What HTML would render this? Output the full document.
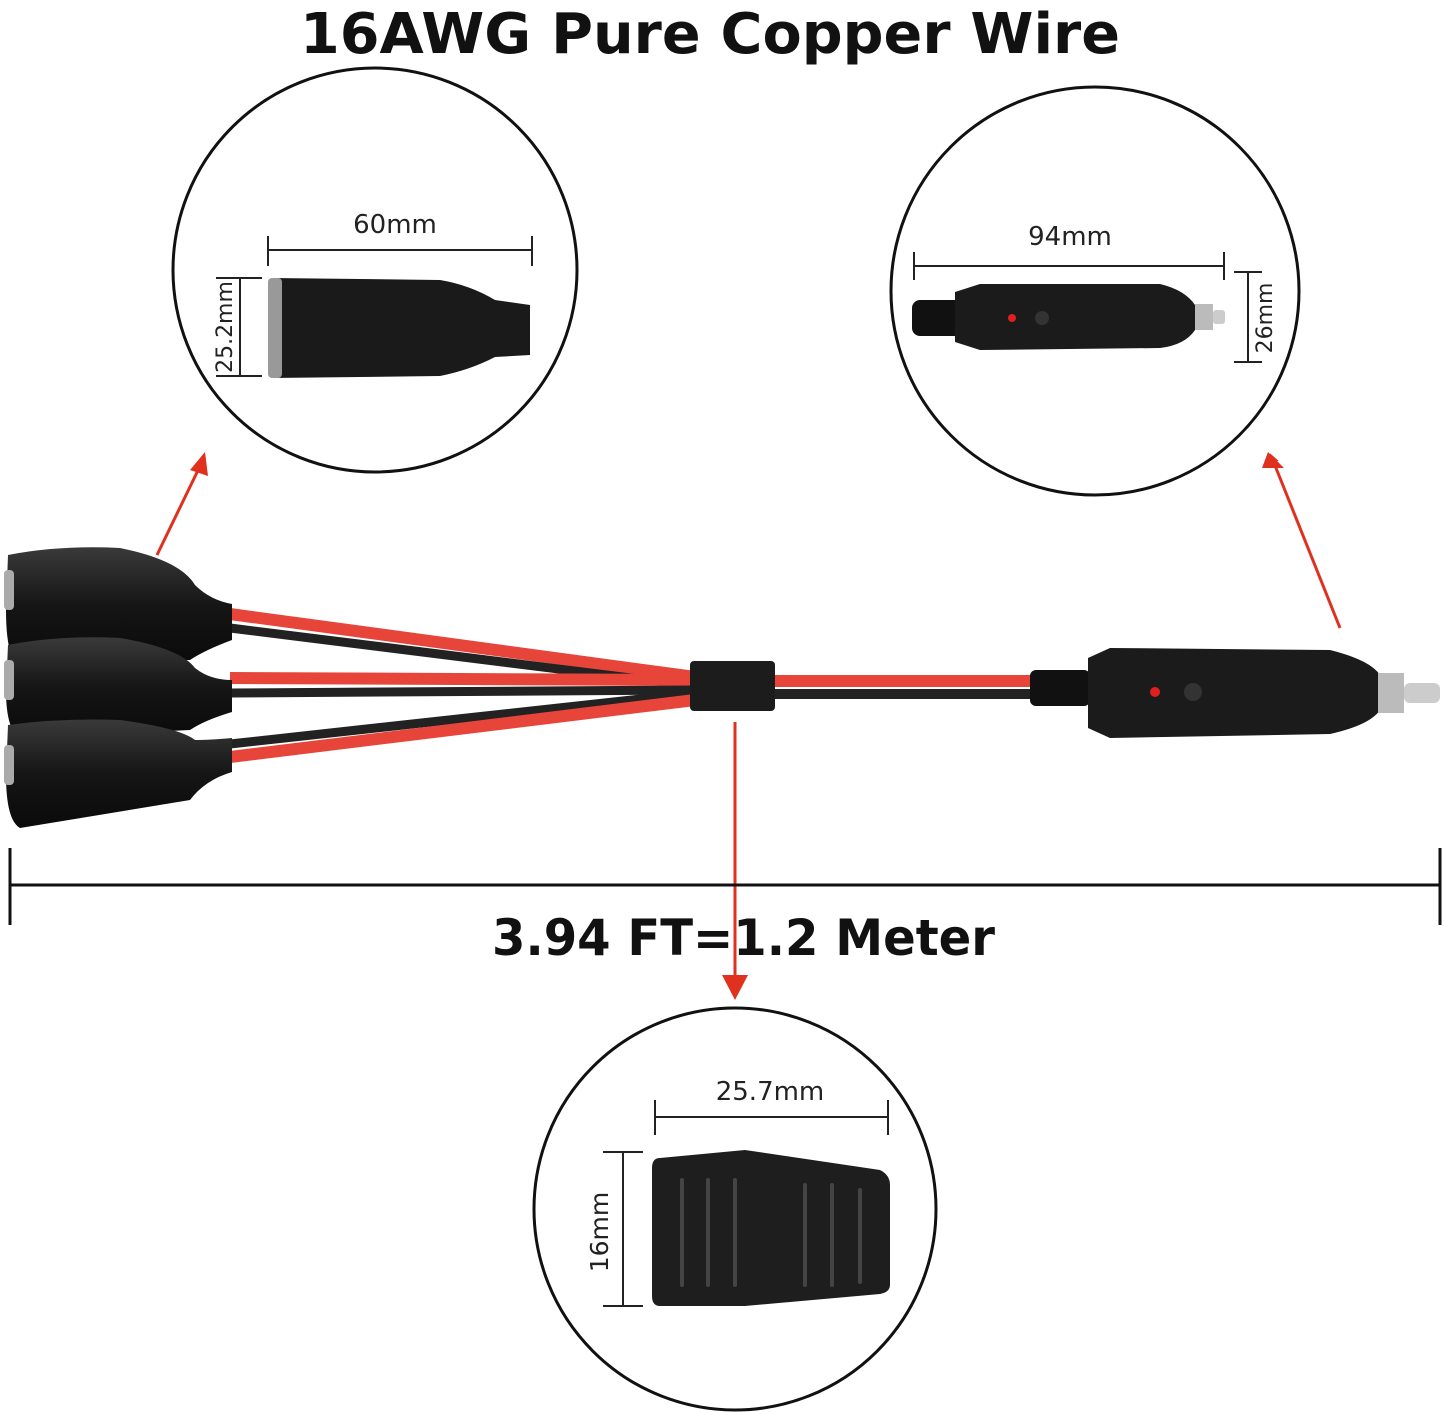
<!DOCTYPE html>
<html><head><meta charset="utf-8"><style>
html,body{margin:0;padding:0;background:#fff;width:1445px;height:1415px;overflow:hidden}
svg{display:block}
text{font-family:"DejaVu Sans","Liberation Sans",sans-serif}
</style></head><body>
<svg width="1445" height="1415" viewBox="0 0 1445 1415" xmlns="http://www.w3.org/2000/svg">
<defs>
<marker id="ah" markerWidth="10" markerHeight="10" refX="5" refY="5" orient="auto" markerUnits="userSpaceOnUse" viewBox="0 0 10 10"><path d="M0,0 L10,5 L0,10 z" fill="#e0301e"/></marker>
<linearGradient id="sock" x1="0" y1="0" x2="0" y2="1"><stop offset="0" stop-color="#3a3a3a"/><stop offset="0.5" stop-color="#151515"/><stop offset="1" stop-color="#0a0a0a"/></linearGradient>
</defs>
<text x="300" y="53" font-size="56" font-weight="bold" textLength="820" lengthAdjust="spacingAndGlyphs" fill="#111">16AWG Pure Copper Wire</text>

<circle cx="375" cy="270" r="202" fill="none" stroke="#111" stroke-width="3"/>
<circle cx="1095" cy="291" r="204" fill="none" stroke="#111" stroke-width="3"/>
<circle cx="735" cy="1209" r="201" fill="none" stroke="#111" stroke-width="3"/>

<text x="395" y="233" font-size="26" text-anchor="middle" fill="#222">60mm</text>
<line x1="268" y1="250" x2="532" y2="250" stroke="#222" stroke-width="2"/>
<line x1="268" y1="236" x2="268" y2="266" stroke="#222" stroke-width="2"/>
<line x1="532" y1="236" x2="532" y2="266" stroke="#222" stroke-width="2"/>
<line x1="240" y1="278" x2="240" y2="376" stroke="#222" stroke-width="2"/>
<line x1="216" y1="278" x2="262" y2="278" stroke="#222" stroke-width="2"/>
<line x1="216" y1="376" x2="262" y2="376" stroke="#222" stroke-width="2"/>
<text transform="translate(232,327) rotate(-90)" font-size="22" text-anchor="middle" fill="#222">25.2mm</text>
<path d="M272,278 L440,280 Q470,285 495,300 L530,305 L530,355 L495,357 Q470,370 440,376 L272,378 Z" fill="#1a1a1a"/>
<rect x="268" y="278" width="14" height="100" rx="4" fill="#999"/>

<text x="1070" y="245" font-size="26" text-anchor="middle" fill="#222">94mm</text>
<line x1="914" y1="266" x2="1224" y2="266" stroke="#222" stroke-width="2"/>
<line x1="914" y1="252" x2="914" y2="280" stroke="#222" stroke-width="2"/>
<line x1="1224" y1="252" x2="1224" y2="280" stroke="#222" stroke-width="2"/>
<line x1="1248" y1="272" x2="1248" y2="362" stroke="#222" stroke-width="2"/>
<line x1="1234" y1="272" x2="1262" y2="272" stroke="#222" stroke-width="2"/>
<line x1="1234" y1="362" x2="1262" y2="362" stroke="#222" stroke-width="2"/>
<text transform="translate(1272,318) rotate(-90)" font-size="22" text-anchor="middle" fill="#222">26mm</text>
<rect x="912" y="300" width="50" height="36" rx="8" fill="#111"/>
<path d="M955,292 L980,284 L1160,284 Q1185,290 1195,305 L1195,330 Q1185,345 1160,348 L980,350 L955,342 Z" fill="#1b1b1b"/>
<rect x="1195" y="304" width="18" height="26" fill="#bbb"/>
<rect x="1213" y="310" width="12" height="14" rx="3" fill="#ccc"/>
<circle cx="1012" cy="318" r="4" fill="#e02020"/>
<circle cx="1042" cy="318" r="7" fill="#333"/>

<text x="770" y="1100" font-size="26" text-anchor="middle" fill="#222">25.7mm</text>
<line x1="655" y1="1117" x2="888" y2="1117" stroke="#222" stroke-width="2"/>
<line x1="655" y1="1100" x2="655" y2="1135" stroke="#222" stroke-width="2"/>
<line x1="888" y1="1100" x2="888" y2="1135" stroke="#222" stroke-width="2"/>
<line x1="623" y1="1152" x2="623" y2="1306" stroke="#222" stroke-width="2"/>
<line x1="603" y1="1152" x2="643" y2="1152" stroke="#222" stroke-width="2"/>
<line x1="603" y1="1306" x2="643" y2="1306" stroke="#222" stroke-width="2"/>
<text transform="translate(608,1232) rotate(-90)" font-size="25" text-anchor="middle" fill="#222">16mm</text>
<path d="M660,1158 L745,1150 L880,1170 Q890,1175 890,1185 L890,1285 Q890,1292 880,1294 L745,1306 L660,1306 Q652,1306 652,1296 L652,1168 Q652,1158 660,1158 Z" fill="#1e1e1e"/>
<g stroke="#444" stroke-width="4" stroke-linecap="round">
<line x1="682" y1="1180" x2="682" y2="1285"/><line x1="708" y1="1180" x2="708" y2="1285"/><line x1="735" y1="1180" x2="735" y2="1285"/>
<line x1="805" y1="1185" x2="805" y2="1285"/><line x1="832" y1="1185" x2="832" y2="1285"/><line x1="860" y1="1190" x2="860" y2="1282"/>
</g>

<line x1="157" y1="555" x2="202" y2="462" stroke="#e0301e" stroke-width="3" marker-end="url(#ah)"/>
<line x1="1340" y1="628" x2="1272" y2="458" stroke="#e0301e" stroke-width="3" marker-end="url(#ah)"/>
<line x1="735" y1="722" x2="735" y2="993" stroke="#e0301e" stroke-width="3" marker-end="url(#ah)"/>
<path d="M722,975 L735,1000 L748,975 Z" fill="#e0301e"/>
<path d="M190,470 L205,452 L208,476 Z" fill="#e0301e"/>
<path d="M1262,468 L1268,452 L1284,468 Z" fill="#e0301e"/>

<g stroke-linecap="butt">
<line x1="230" y1="614" x2="695" y2="677" stroke="#e8453a" stroke-width="12"/>
<line x1="230" y1="628" x2="695" y2="686" stroke="#222" stroke-width="9"/>
<line x1="230" y1="678" x2="695" y2="680" stroke="#e8453a" stroke-width="12"/>
<line x1="230" y1="693" x2="695" y2="690" stroke="#222" stroke-width="9"/>
<line x1="230" y1="744" x2="695" y2="693" stroke="#222" stroke-width="9"/>
<line x1="230" y1="757" x2="695" y2="700" stroke="#e8453a" stroke-width="12"/>
<line x1="770" y1="681" x2="1090" y2="681" stroke="#e8453a" stroke-width="12"/>
<line x1="770" y1="694" x2="1090" y2="694" stroke="#222" stroke-width="10"/>
</g>
<rect x="690" y="661" width="85" height="50" rx="4" fill="#1c1c1c"/>

<g>
<path d="M8,555 Q60,545 120,548 Q180,560 195,585 Q210,600 232,604 L232,640 Q205,650 190,660 L20,665 Q6,660 6,610 Z" fill="url(#sock)"/>
<path d="M8,645 Q60,635 120,638 Q180,648 195,668 Q210,680 232,680 L232,712 Q205,720 190,730 L20,738 Q6,730 6,690 Z" fill="url(#sock)"/>
<path d="M8,725 Q60,718 120,720 Q180,728 195,740 Q210,740 232,738 L232,772 Q205,780 190,800 L20,828 Q6,820 6,775 Z" fill="url(#sock)"/>
<rect x="4" y="570" width="10" height="40" rx="4" fill="#aaa"/>
<rect x="4" y="660" width="10" height="40" rx="4" fill="#aaa"/>
<rect x="4" y="745" width="10" height="40" rx="4" fill="#aaa"/>
</g>

<rect x="1030" y="670" width="60" height="36" rx="6" fill="#111"/>
<path d="M1088,658 L1110,648 L1330,650 Q1370,660 1380,675 L1380,710 Q1370,725 1330,734 L1110,738 L1088,728 Z" fill="#1b1b1b"/>
<rect x="1378" y="673" width="26" height="40" fill="#bbb"/>
<rect x="1404" y="683" width="36" height="20" rx="6" fill="#ccc"/>
<circle cx="1155" cy="692" r="5" fill="#e02020"/>
<circle cx="1193" cy="692" r="9" fill="#333"/>

<line x1="10" y1="885" x2="1440" y2="885" stroke="#111" stroke-width="3"/>
<line x1="10" y1="848" x2="10" y2="925" stroke="#111" stroke-width="3"/>
<line x1="1440" y1="848" x2="1440" y2="925" stroke="#111" stroke-width="3"/>
<text x="492" y="955" font-size="50" font-weight="bold" textLength="503" lengthAdjust="spacingAndGlyphs" fill="#111">3.94 FT=1.2 Meter</text>
</svg>
</body></html>
